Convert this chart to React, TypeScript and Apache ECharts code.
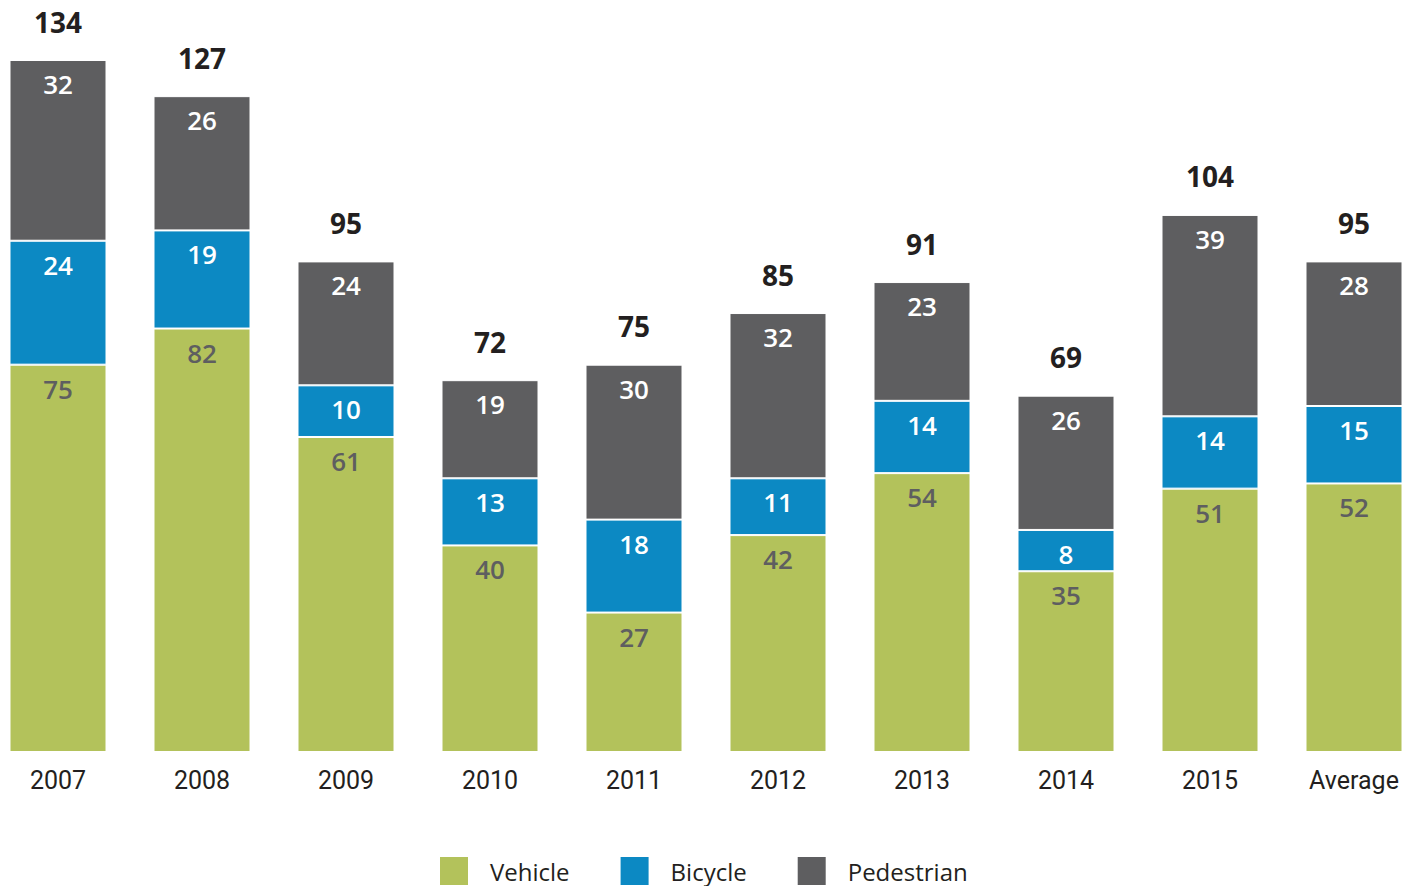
import React, { useEffect, useRef } from "react";
import * as echarts from "echarts";

const categories = ["2007", "2008", "2009", "2010", "2011", "2012", "2013", "2014", "2015", "Average"];
const vehicle = [75, 82, 61, 40, 27, 42, 54, 35, 51, 52];
const bicycle = [24, 19, 10, 13, 18, 11, 14, 8, 14, 15];
const pedestrian = [32, 26, 24, 19, 30, 32, 23, 26, 39, 28];
const totals = [134, 127, 95, 72, 75, 85, 91, 69, 104, 95];

const COLORS = { vehicle: "#b3c25b", bicycle: "#0c89c3", pedestrian: "#5e5e60" };
const SEG_FONT = "'Open Sans', 'Noto Sans', sans-serif";

export default function App() {
  const ref = useRef<HTMLDivElement>(null);
  useEffect(() => {
    if (!ref.current) return;
    const chart = echarts.init(ref.current, null, { renderer: "svg" });
    // the top segment reaches the printed total of each column
    const pedestrianDrawn = totals.map((t, i) => t - vehicle[i] - bicycle[i]);
    const segLabel = (color: string, arr: number[]) => ({
      show: true,
      position: "insideTop" as const,
      distance: 11,
      color,
      fontFamily: SEG_FONT,
      fontWeight: 600,
      fontSize: 26,
      formatter: (p: any) => String(arr[p.dataIndex]),
    });
    const itemStyle = (c: string) => ({ color: c, borderColor: "#ffffff", borderWidth: 1 });
    chart.setOption({
      animation: false,
      grid: { left: 0, right: 0, top: 60, bottom: 134, containLabel: false },
      legend: {
        data: ["Vehicle", "Bicycle", "Pedestrian"],
        left: 452,
        top: 855,
        padding: 0,
        itemWidth: 30,
        itemHeight: 30,
        itemGap: 49,
        icon: "rect",
        textStyle: {
          fontFamily: SEG_FONT,
          fontSize: 24,
          color: "#231f20",
          padding: [0, 0, 0, 16],
        },
      },
      xAxis: {
        type: "category",
        data: categories,
        axisLine: { show: false },
        axisTick: { show: false },
        axisLabel: {
          margin: 16,
          fontFamily: "'Liberation Sans Narrow', 'Roboto', sans-serif",
          fontSize: 25,
          color: "#231f20",
        },
      },
      yAxis: {
        type: "value",
        min: 0,
        max: 134,
        show: false,
        splitLine: { show: false },
      },
      series: [
        {
          name: "Vehicle",
          type: "bar",
          stack: "total",
          barWidth: 97,
          data: vehicle,
          itemStyle: itemStyle(COLORS.vehicle),
          label: segLabel("#5e5e60", vehicle),
        },
        {
          name: "Bicycle",
          type: "bar",
          stack: "total",
          barWidth: 97,
          data: bicycle,
          itemStyle: itemStyle(COLORS.bicycle),
          label: segLabel("#ffffff", bicycle),
        },
        {
          name: "Pedestrian",
          type: "bar",
          stack: "total",
          barWidth: 97,
          data: pedestrianDrawn,
          itemStyle: itemStyle(COLORS.pedestrian),
          label: segLabel("#ffffff", pedestrian),
        },
        {
          name: "Total",
          type: "line",
          data: totals,
          symbol: "circle",
          symbolSize: 1,
          showSymbol: true,
          itemStyle: { color: "rgba(0,0,0,0)" },
          lineStyle: { opacity: 0, width: 0 },
          silent: true,
          label: {
            show: true,
            position: "top",
            distance: 24,
            color: "#231f20",
            fontFamily: SEG_FONT,
            fontWeight: 700,
            fontSize: 28,
          },
        },
      ],
    });
    return () => chart.dispose();
  }, []);
  return (
    <div
      ref={ref}
      style={{ position: "fixed", left: -14, top: 0, width: 1440, height: 886, background: "#fff" }}
    />
  );
}
